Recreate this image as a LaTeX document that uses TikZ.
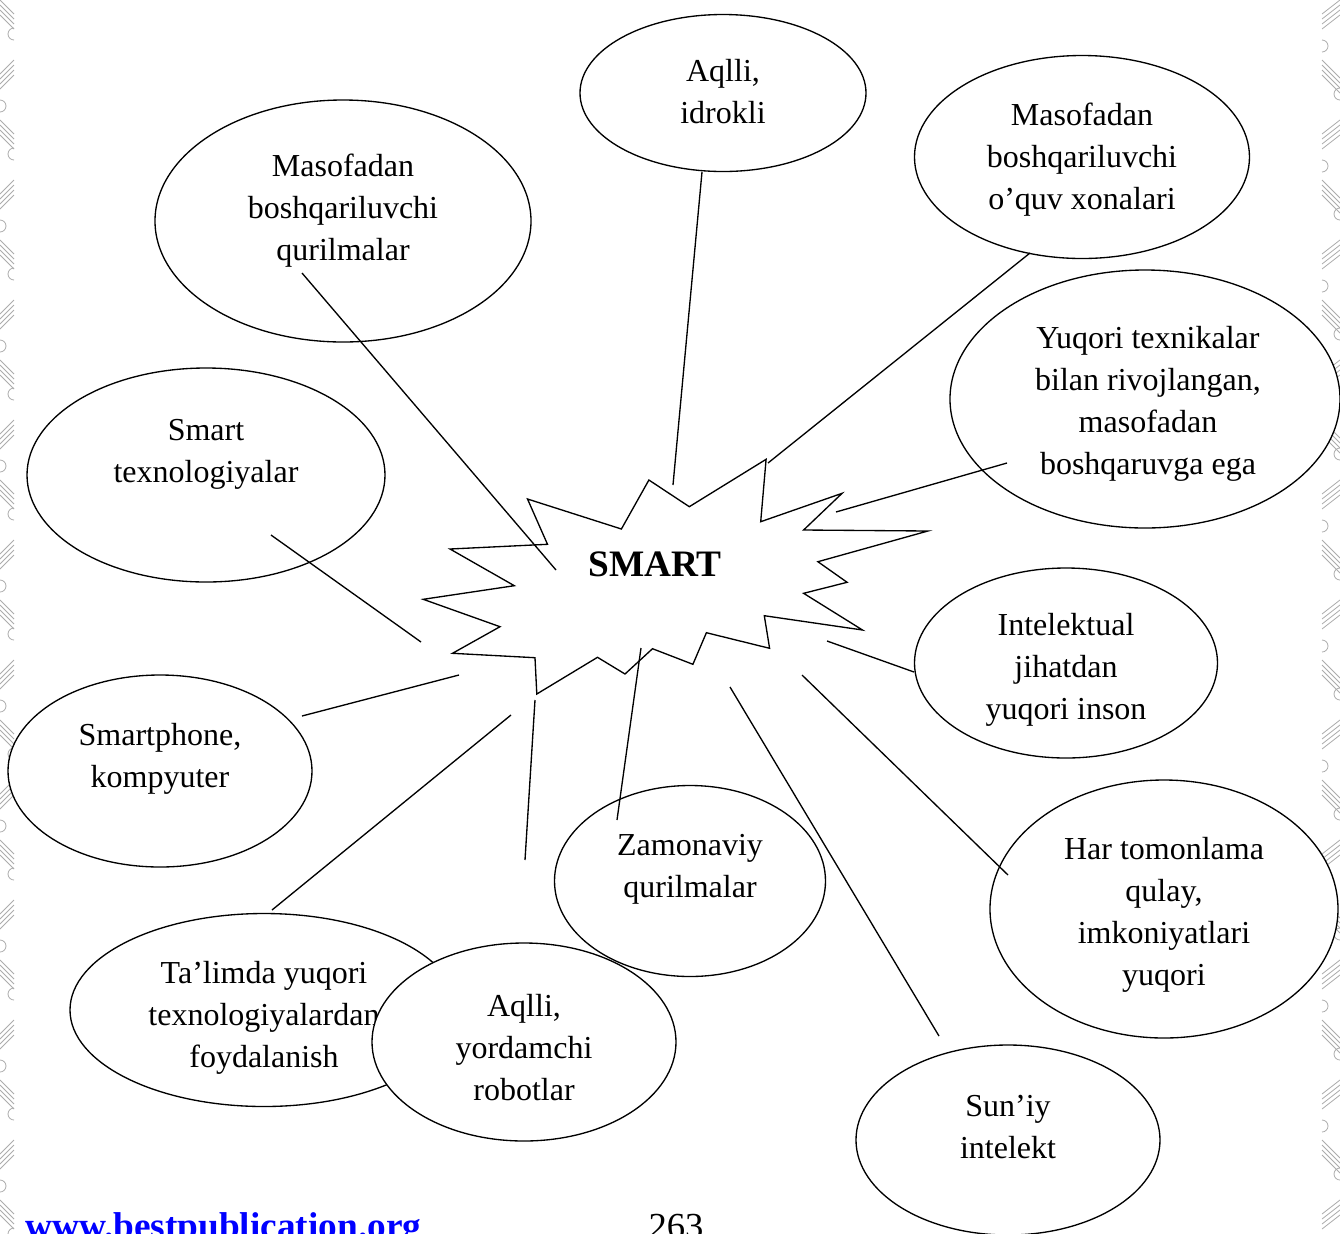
\documentclass[tikz,border=0pt]{standalone}
\usepackage{fontspec}
\setmainfont{Liberation Serif}
\usetikzlibrary{shapes.geometric}
\begin{document}
\begin{tikzpicture}[x=0.75pt,y=-0.75pt,
  bubble/.style 2 args={ellipse, draw, fill=white, line width=1pt, inner sep=0pt,
     minimum width=#1*0.75pt, minimum height=#2*0.75pt},
  txt/.style={align=center, inner sep=0pt, yshift=-2.25pt, font=\fontsize{24}{31.5}\selectfont},
  link/.style={line width=1pt},
  orn/.style={gray!65, line width=0.6pt}]
\useasboundingbox (0,0) rectangle (1340,1233);
\begin{scope}
\clip (0,0) rectangle (1340,1233);
\fill[white] (0,0) rectangle (1340,1233);
% decorative borders
\foreach \y in {0,120,...,1200}{
  \foreach \d in {0,5,10,15}{
    \draw[orn] (0,\y+\d) -- (14,\y+\d+14);
    \draw[orn] (0,\y+74+\d) -- (14,\y+60+\d);
    \draw[orn] (1322,\y+\d+14) -- (1340,\y+\d);
    \draw[orn] (1322,\y+60+\d) -- (1340,\y+78+\d);
  }
  \draw[orn] (14,\y+40) arc (90:270:6);
  \draw[orn] (0,\y+100) arc (-90:90:6);
  \draw[orn] (1322,\y+40) arc (-90:90:6);
  \draw[orn] (1340,\y+100) arc (90:270:6);
}
% bubbles
\node[bubble={286}{157}] (e1) at (723,93) {};
\node[txt] (t1) at (723,89) {Aqlli,\\idrokli};
\node[bubble={376}{242}] (e2) at (343,221) {};
\node[txt] (t2) at (343,208) {Masofadan\\boshqariluvchi\\qurilmalar};
\node[bubble={335}{203}] (e3) at (1082,157) {};
\node[txt] (t3) at (1082,157) {Masofadan\\boshqariluvchi\\o’quv xonalari};
\node[bubble={390}{258}] (e4) at (1145,399) {};
\node[txt] (t4) at (1148,401) {Yuqori texnikalar\\bilan rivojlangan,\\masofadan\\boshqaruvga ega};
\node[bubble={358}{214}] (e5) at (206,475) {};
\node[txt] (t5) at (206,451) {Smart\\texnologiyalar};
\node[bubble={303}{190}] (e6) at (1066,663) {};
\node[txt] (t6) at (1066,667) {Intelektual\\jihatdan\\yuqori inson};
\node[bubble={304}{192}] (e7) at (160,771) {};
\node[txt] (t7) at (160,756) {Smartphone,\\kompyuter};
\node[bubble={271}{191}] (e8) at (690,881) {};
\node[txt] (t8) at (690,866) {Zamonaviy\\qurilmalar};
\node[bubble={348}{258}] (e9) at (1164,909) {};
\node[txt] (t9) at (1164,912) {Har tomonlama\\qulay,\\imkoniyatlari\\yuqori};
\node[bubble={388}{193}] (e10) at (264,1010) {};
\node[txt] (t10) at (264,1015) {Ta’limda yuqori\\texnologiyalardan\\foydalanish};
\node[bubble={304}{198}] (e11) at (524,1042) {};
\node[txt] (t11) at (524,1045) {Aqlli,\\yordamchi\\robotlar};
\node[bubble={304}{190}] (e12) at (1008,1140) {};
\node[txt] (t12) at (1008,1124) {Sun’iy\\intelekt};
% star
\draw[line width=1pt, fill=white, line join=miter]
  (527.5,499) -- (621.4,529) -- (648.9,480) -- (689.3,506.7) -- (766.1,459.3)
  -- (760.7,521.7) -- (842.1,493.3) -- (803.6,530) -- (927.9,531) -- (817.9,561.7)
  -- (847.1,582.3) -- (803.6,593.3) -- (862.5,630) -- (764.3,615.7) -- (769.6,648.3)
  -- (706.4,632.7) -- (692.9,664.3) -- (652.5,648.7) -- (625,674) -- (597.5,657.3)
  -- (536.8,694) -- (535,657.7) -- (452.5,653.3) -- (500,626.7) -- (423.2,599.3)
  -- (514.3,585.7) -- (450,549) -- (547.5,544.3) -- cycle;
\node[font=\fontsize{28}{32}\selectfont\bfseries, inner sep=0pt] (smart) at (655,564) {SMART};
% connector end points
\coordinate (a1) at (702,172);  \coordinate (b1) at (673,485);
\coordinate (a2) at (302,273);  \coordinate (b2) at (556,570);
\coordinate (a3) at (1030,253); \coordinate (b3) at (768,463);
\coordinate (a4) at (1007,463); \coordinate (b4) at (836,512);
\coordinate (a5) at (271,535);  \coordinate (b5) at (421,642);
\coordinate (a6) at (914,672);  \coordinate (b6) at (827,641);
\coordinate (a7) at (302,716);  \coordinate (b7) at (459,675);
\coordinate (a8) at (617,820);  \coordinate (b8) at (641,648);
\coordinate (a9) at (1008,875); \coordinate (b9) at (802,675);
\coordinate (a10) at (272,910); \coordinate (b10) at (511,715);
\coordinate (a11) at (525,860); \coordinate (b11) at (535,700);
\coordinate (a12) at (939,1036); \coordinate (b12) at (730,687);
\foreach \i in {1,...,12}{\draw[link] (a\i) -- (b\i);}
% footer
\node[anchor=base west, inner sep=0pt, text=blue, font=\fontsize{28}{32}\selectfont\bfseries] (url) at (25,1238) {www.bestpublication.org};
\node[anchor=base, inner sep=0pt, font=\fontsize{27.5}{32}\selectfont] (page) at (676,1238) {263};
\end{scope}
\end{tikzpicture}
\end{document}
